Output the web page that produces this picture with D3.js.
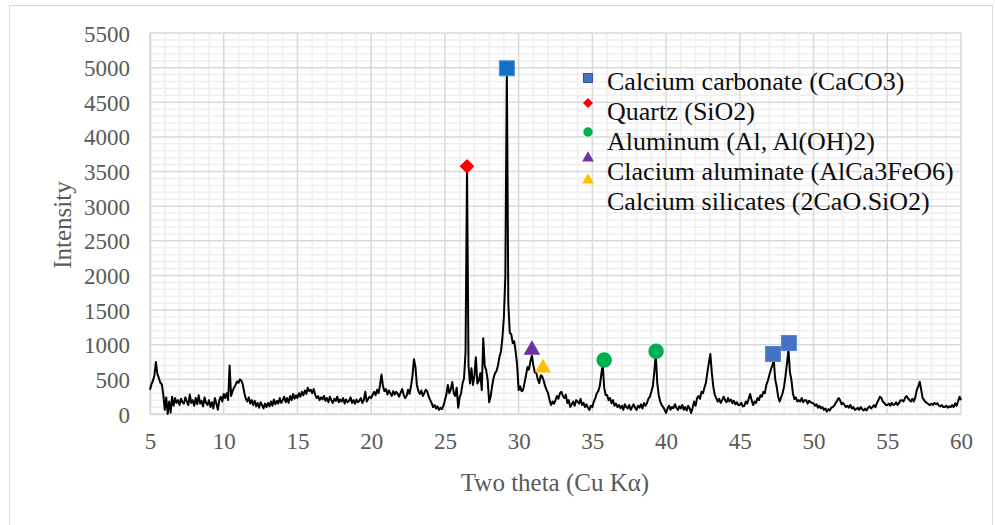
<!DOCTYPE html>
<html>
<head>
<meta charset="utf-8">
<script src="https://cdn.jsdelivr.net/npm/d3@7"></script>
<style>
  html, body { margin: 0; padding: 0; background: #fff; }
  svg { display: block; }
  svg text { font-family: "Liberation Serif", "Times New Roman", serif !important; }
</style>
</head>
<body>
<svg id="chart" width="995" height="525"></svg>
<script>
// ---------------- DATA ----------------
const scanStart = 5;      // degrees two theta
const scanStep = 0.1;     // degrees per reading
// Intensity readings, 5.0° .. 60.0° every 0.1°
const intensity = [
  350,430,480,560,750,580,520,450,430,280,          // 5
  60,240,0,180,20,250,120,230,160,200,              // 6
  130,220,170,150,240,180,130,280,160,200,          // 7
  120,230,140,270,150,190,110,240,160,130,          // 8
  200,100,170,80,230,150,60,200,250,180,            // 9
  290,230,300,200,700,260,330,380,420,470,          // 10
  450,500,480,420,300,220,180,240,150,200,          // 11
  130,190,110,160,90,170,130,80,150,100,            // 12
  160,110,180,120,210,140,190,150,230,160,          // 13
  200,250,170,230,160,260,200,290,220,270,          // 14
  230,300,250,320,270,340,290,380,330,350,          // 15
  300,360,280,230,260,200,240,210,260,190,          // 16
  230,170,250,200,160,220,190,250,170,210,          // 17
  180,230,150,210,170,190,240,160,200,150,          // 18
  210,170,190,230,160,200,320,180,220,250,          // 19
  230,280,320,270,350,300,420,570,400,330,          // 20
  360,280,340,300,260,330,280,320,290,250,          // 21
  310,360,280,230,260,350,290,400,550,790,          // 22
  680,420,330,290,340,260,300,350,330,250,          // 23
  200,160,100,130,80,110,60,90,70,120,              // 24
  200,280,420,300,360,460,300,260,380,90,           // 25
  240,300,445,520,900,3570,700,440,660,420,         // 26
  550,820,440,480,590,345,1095,700,630,490,         // 27
  170,250,400,520,590,620,700,825,900,1100,         // 28
  1400,2000,4990,1600,1170,1150,1025,1050,900,700,  // 29
  345,400,330,345,450,560,680,640,760,840,          // 30
  700,600,590,500,445,560,540,480,400,345,          // 31
  300,200,130,180,150,200,260,220,300,320,          // 32
  260,230,280,160,200,100,140,180,120,200,          // 33
  180,150,220,130,160,100,140,90,60,120,            // 34
  100,180,230,300,330,400,560,720,380,275,          // 35
  275,200,230,155,200,120,150,100,130,85,           // 36
  120,60,140,100,80,130,60,100,140,90,              // 37
  60,120,90,140,80,160,120,155,220,250,             // 38
  320,400,600,880,450,275,180,130,100,60,           // 39
  15,80,120,60,100,85,140,90,60,110,                // 40
  80,130,60,100,50,120,80,15,90,180,                // 41
  120,230,260,220,320,300,380,450,600,735,          // 42
  865,600,395,280,230,180,220,160,200,250,          // 43
  200,170,230,180,210,155,190,140,170,130,          // 44
  130,160,110,115,180,150,220,290,200,130,          // 45
  180,160,230,200,270,250,320,300,420,480,          // 46
  560,635,700,780,500,395,250,180,240,300,          // 47
  395,550,735,925,600,490,300,215,240,180,          // 48
  200,180,230,170,200,200,150,190,170,160,          // 49
  155,120,140,90,120,85,100,60,80,35,               // 50
  70,50,90,100,120,160,190,230,200,140,             // 51
  160,130,100,120,90,130,80,100,60,70,              // 52
  90,60,100,70,50,80,50,90,110,80,                  // 53
  100,130,100,160,200,250,230,180,160,130,          // 54
  130,150,120,160,130,140,170,130,160,200,          // 55
  200,180,230,260,230,200,180,220,180,240,          // 56
  345,400,465,350,230,200,170,160,140,130,          // 57
  150,130,160,140,155,120,110,130,100,100,          // 58
  120,90,110,100,130,100,155,120,180,250,           // 59
  200                                               // 60
];

// Identified phase markers
const phaseNames = [
  "Calcium carbonate (CaCO3)",
  "Quartz (SiO2)",
  "Aluminum (Al, Al(OH)2)",
  "Clacium aluminate (AlCa3FeO6)",
  "Calcium silicates (2CaO.SiO2)"
];
const calciteTheta = [29.2, 47.25, 48.33];
const calciteInt   = [4990, 866, 1025];
const quartzTheta  = [26.5];
const quartzInt    = [3575];
const aluminumTheta = [35.8, 39.32];
const aluminumInt   = [780, 905];
const aluminateTheta = [30.9];
const aluminateInt   = [925];
const silicateTheta = [31.65];
const silicateInt   = [665];

const xTicks = [5, 10, 15, 20, 25, 30, 35, 40, 45, 50, 55, 60];
const yTicks = [0, 500, 1000, 1500, 2000, 2500, 3000, 3500, 4000, 4500, 5000, 5500];

// ---------------- LAYOUT ----------------
const FONT = "'Liberation Serif', 'Times New Roman', serif";
const svg = d3.select("#chart");
const plot = { left: 150, right: 961, top: 33, bottom: 414 };

const x = d3.scaleLinear().domain([5, 60]).range([plot.left, plot.right]);
const y = d3.scaleLinear().domain([0, 5500]).range([plot.bottom, plot.top]);

// outer chart border
svg.append("rect")
  .attr("x", 9.5).attr("y", 5.5).attr("width", 983).attr("height", 530)
  .attr("fill", "#fff").attr("stroke", "#d9d9d9").attr("stroke-width", 1);

// minor gridlines
const minorX = d3.range(5, 60.001, 1).filter(v => v % 5 !== 0);
const minorY = d3.range(0, 5500.001, 100).filter(v => v % 500 !== 0);
const grid = svg.append("g");
grid.selectAll(".mx").data(minorX).join("line")
  .attr("x1", d => x(d)).attr("x2", d => x(d))
  .attr("y1", plot.top).attr("y2", plot.bottom)
  .attr("stroke", "#efefef").attr("stroke-width", 1.5);
grid.selectAll(".my").data(minorY).join("line")
  .attr("y1", d => y(d)).attr("y2", d => y(d))
  .attr("x1", plot.left).attr("x2", plot.right)
  .attr("stroke", "#efefef").attr("stroke-width", 1.5);
// major gridlines
grid.selectAll(".Mx").data(xTicks).join("line")
  .attr("x1", d => x(d)).attr("x2", d => x(d))
  .attr("y1", plot.top).attr("y2", plot.bottom)
  .attr("stroke", "#d9d9d9").attr("stroke-width", 1.5);
grid.selectAll(".My").data(yTicks).join("line")
  .attr("y1", d => y(d)).attr("y2", d => y(d))
  .attr("x1", plot.left).attr("x2", plot.right)
  .attr("stroke", "#d9d9d9").attr("stroke-width", 1.5);

// axes (labels only)
const xAxis = d3.axisBottom(x).tickValues(xTicks).tickSize(0).tickPadding(0).tickFormat(d3.format("d"));
const gx = svg.append("g").attr("transform", `translate(0,${plot.bottom})`).call(xAxis)
  .attr("font-family", FONT).attr("font-size", 23);
gx.select(".domain").attr("stroke", "#d9d9d9").attr("stroke-width", 1.5);
gx.selectAll("text")
  .attr("y", 27).attr("dy", "0.35em").attr("fill", "#595959");

const yAxis = d3.axisLeft(y).tickValues(yTicks).tickSize(0).tickPadding(0).tickFormat(d3.format("d"));
const gy = svg.append("g").attr("transform", `translate(${plot.left},0)`).call(yAxis)
  .attr("font-family", FONT).attr("font-size", 23);
gy.select(".domain").attr("stroke", "#d9d9d9").attr("stroke-width", 1.5);
gy.selectAll("text")
  .attr("x", -20).attr("dy", "0.35em").attr("fill", "#595959");

// axis titles
svg.append("text")
  .attr("x", 555).attr("y", 482).attr("dy", "0.35em")
  .attr("font-family", FONT)
  .attr("text-anchor", "middle").attr("font-size", 25).attr("fill", "#595959")
  .text("Two theta (Cu Kα)");
svg.append("text")
  .attr("transform", "translate(62,225) rotate(-90)").attr("dy", "0.35em")
  .attr("font-family", FONT)
  .attr("text-anchor", "middle").attr("font-size", 25).attr("fill", "#595959")
  .text("Intensity");

// trace
const pts = intensity.map((v, i) => [scanStart + i * scanStep, v]);
svg.append("path")
  .datum(pts)
  .attr("fill", "none").attr("stroke", "#000").attr("stroke-width", 2)
  .attr("stroke-linejoin", "round")
  .attr("d", d3.line().x(d => x(d[0])).y(d => y(d[1])));

// markers
const sym = (type, size) => d3.symbol().type(type).size(size)();
function markers(thetas, ints, type, size, fill, stroke, rot) {
  svg.append("g").selectAll("path").data(thetas.map((t, i) => [t, ints[i]])).join("path")
    .attr("transform", d => `translate(${x(d[0])},${y(d[1])})${rot ? " rotate(" + rot + ")" : ""}`)
    .attr("d", sym(type, size))
    .attr("fill", fill).attr("stroke", stroke || "none").attr("stroke-width", 1);
}
svg.append("g").selectAll("rect").data(calciteTheta.map((t, i) => [t, calciteInt[i], i])).join("rect")
  .attr("x", d => x(d[0]) - 7.5).attr("y", d => y(d[1]) - 7.5)
  .attr("width", 15).attr("height", 15)
  .attr("fill", d => d[2] === 0 ? "#1470c4" : "#4472c4")
  .attr("stroke", d => d[2] === 0 ? "#4a8fd6" : "#5b86d0").attr("stroke-width", 1);
markers(quartzTheta, quartzInt, d3.symbolSquare, 110, "#ff0000", null, 45);
markers(aluminumTheta, aluminumInt, d3.symbolCircle, 190, "#00b050");
markers(aluminateTheta, aluminateInt, d3.symbolTriangle, 120, "#7030a0");
markers(silicateTheta, silicateInt, d3.symbolTriangle, 110, "#ffc000");

// legend
const legMarkX = 588;
const legTextX = 607;
const legMarkY = [78, 103, 132, 158, 180];
const legTextY = [90, 120, 150, 180, 210];
const lg = svg.append("g");
lg.append("rect").attr("x", legMarkX - 4.5).attr("y", legMarkY[0] - 4.5)
  .attr("width", 9).attr("height", 9).attr("fill", "#4472c4").attr("stroke", "#2f5597").attr("stroke-width", 1);
lg.append("path").attr("transform", `translate(${legMarkX},${legMarkY[1]}) rotate(45)`)
  .attr("d", sym(d3.symbolSquare, 50)).attr("fill", "#ff0000");
lg.append("path").attr("transform", `translate(${legMarkX},${legMarkY[2]})`)
  .attr("d", sym(d3.symbolCircle, 70)).attr("fill", "#00b050");
lg.append("path").attr("transform", `translate(${legMarkX},${legMarkY[3]})`)
  .attr("d", sym(d3.symbolTriangle, 60)).attr("fill", "#7030a0");
lg.append("path").attr("transform", `translate(${legMarkX},${legMarkY[4]})`)
  .attr("d", sym(d3.symbolTriangle, 60)).attr("fill", "#ffc000");
lg.selectAll("text").data(phaseNames).join("text")
  .attr("x", legTextX).attr("y", (d, i) => legTextY[i])
  .attr("font-family", FONT)
  .attr("font-size", 26).attr("fill", "#0d0d0d")
  .text(d => d);
</script>
</body>
</html>
